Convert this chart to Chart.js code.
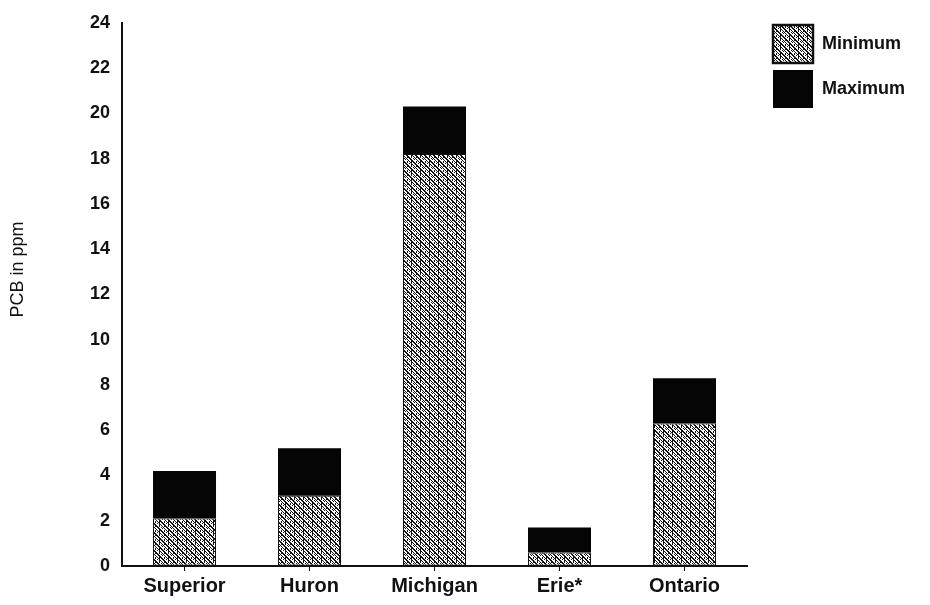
<!DOCTYPE html>
<html>
<head>
<meta charset="utf-8">
<script src="https://cdn.jsdelivr.net/npm/chart.js@4/dist/chart.umd.min.js"></script>
<style>
  html, body { margin: 0; padding: 0; background: #fff; }
  #wrap { width: 930px; height: 605px; position: relative; }
</style>
</head>
<body>
<div id="wrap"><canvas id="c" width="930" height="605"></canvas></div>
<script>
// ---- data ----
const categories = ['Superior', 'Huron', 'Michigan', 'Erie*', 'Ontario'];
const minimumValues = [2.1, 3.1, 18.2, 0.6, 6.3];
const maximumValues = [4.2, 5.2, 20.3, 1.7, 8.3];
const yTickLabels = [0, 2, 4, 6, 8, 10, 12, 14, 16, 18, 20, 22, 24];
const seriesNames = ['Minimum', 'Maximum'];
const yAxisTitle = 'PCB in ppm';

// ---- stipple pattern for the "Minimum" series ----
function makePattern() {
  const n = 9;
  const t = document.createElement('canvas');
  t.width = n; t.height = n;
  const c = t.getContext('2d');
  c.fillStyle = '#ffffff';
  c.fillRect(0, 0, n, n);
  c.fillStyle = '#111111';
  for (let i = 0; i < n; i++) {
    c.fillRect(i, i, 1, 1);
    c.fillRect(i, (i + 1) % n, 1, 1);
    c.fillRect(i, (i + 4) % n, 1, 1);
    if (i % 2 === 0) c.fillRect(i, (i + 6) % n, 1, 1);
  }
  for (let x = 2; x < n; x += 4) {
    for (let y = 0; y < n; y += 2) c.fillRect(x, y, 1, 1);
  }
  return c.createPattern(t, 'repeat');
}
const ctx = document.getElementById('c').getContext('2d');
const stipple = makePattern();

const FONT = '"Liberation Sans", Arial, Helvetica, sans-serif';

const legendPlacer = {
  id: 'legendPlacer',
  afterLayout(chart) {
    const lg = chart.legend;
    if (!lg) return;
    lg.left = 766; lg.right = 930;
    lg.top = 18; lg.bottom = 200;
  }
};

const yTitlePlugin = {
  id: 'yTitle',
  afterDraw(chart) {
    const a = chart.chartArea;
    const c = chart.ctx;
    c.save();
    c.translate(18, (a.top + a.bottom) / 2 - 25);
    c.rotate(-Math.PI / 2);
    c.font = '18px ' + FONT;
    c.fillStyle = '#111';
    c.textAlign = 'center';
    c.textBaseline = 'middle';
    c.fillText(yAxisTitle, 0, 0);
    c.restore();
  }
};

new Chart(ctx, {
  type: 'bar',
  data: {
    labels: categories,
    datasets: [
      {
        label: seriesNames[0],
        data: minimumValues.map(v => [0, v]),
        backgroundColor: stipple,
        borderColor: '#111',
        borderWidth: 1,
        borderSkipped: false,
        grouped: false,
        categoryPercentage: 1,
        barPercentage: 0.504
      },
      {
        label: seriesNames[1],
        data: maximumValues.map((v, i) => [minimumValues[i], v]),
        backgroundColor: '#050505',
        borderColor: '#050505',
        borderWidth: 0,
        grouped: false,
        categoryPercentage: 1,
        barPercentage: 0.504
      }
    ]
  },
  options: {
    responsive: false,
    animation: false,
    devicePixelRatio: 1,
    layout: { padding: { left: 78, top: 18, right: 43, bottom: 3 } },
    plugins: {
      tooltip: { enabled: false },
      legend: {
        position: 'right',
        align: 'start',
        maxWidth: 140,
        labels: {
          boxWidth: 40,
          boxHeight: 38,
          padding: 7,
          color: '#111',
          font: { family: FONT, size: 18, weight: 'bold' },
          generateLabels(chart) {
            const items = Chart.defaults.plugins.legend.labels.generateLabels(chart);
            items[0].lineWidth = 2.5;
            items[0].strokeStyle = '#111';
            return items;
          }
        }
      }
    },
    scales: {
      x: {
        grid: { display: true, offset: false, drawOnChartArea: false, drawTicks: true, tickLength: 5, color: '#111', lineWidth: 1 },
        border: { display: true, color: '#111', width: 2 },
        ticks: { color: '#111', padding: 7, font: { family: FONT, size: 20, weight: 'bold', lineHeight: 0.85 } }
      },
      y: {
        min: yTickLabels[0],
        max: yTickLabels[yTickLabels.length - 1],
        afterBuildTicks(scale) { scale.ticks = yTickLabels.map(v => ({ value: v })); },
        grid: { display: true, drawOnChartArea: false, drawTicks: false },
        border: { display: true, color: '#111', width: 2 },
        ticks: { color: '#111', padding: 12, font: { family: FONT, size: 18, weight: 'bold' } }
      }
    }
  },
  plugins: [legendPlacer, yTitlePlugin]
});
</script>
</body>
</html>
